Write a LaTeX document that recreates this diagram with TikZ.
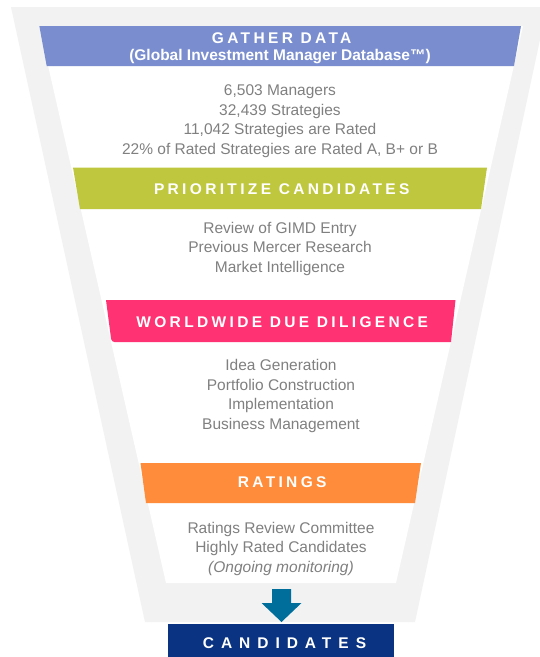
\documentclass[tikz,border=0pt]{standalone}
\usepackage{fontspec}
\setmainfont{Liberation Sans}
\newfontfamily\headfont{Liberation Sans}[LetterSpace=21.6]
\newfontfamily\candfont{Liberation Sans}[LetterSpace=45]
\definecolor{funnelgray}{HTML}{F2F2F2}
\definecolor{bandblue}{HTML}{7A8ECF}
\definecolor{bandgreen}{HTML}{BFC73E}
\definecolor{bandpink}{HTML}{FF3373}
\definecolor{bandorange}{HTML}{FF8C3A}
\definecolor{arrowteal}{HTML}{006E9B}
\definecolor{navybox}{HTML}{0A3482}
\definecolor{bodygray}{HTML}{808080}
\begin{document}
\begin{tikzpicture}[x=1pt,y=-1pt,
  body/.style={text=bodygray, font=\fontsize{15.5}{19.5}\selectfont, align=center, inner sep=0pt},
  head/.style={text=white, font=\headfont\bfseries\fontsize{15.5}{18}\selectfont, inner sep=0pt},
  subhead/.style={text=white, font=\bfseries\fontsize{15.5}{18}\selectfont, inner sep=0pt},
  candtext/.style={text=white, font=\candfont\bfseries\fontsize{15.5}{18}\selectfont, inner sep=0pt}]
\useasboundingbox (0,0) rectangle (540,657);
\fill[white] (0,0) rectangle (540,657);
% outer gray funnel
\fill[funnelgray] (11,7) -- (547,7) -- (415,622) -- (145,622) -- cycle;
% inner white funnel
\fill[white] (39,26) -- (523,26) -- (396,583) -- (166,583) -- cycle;
% bands
\fill[bandblue] (39.3,26) -- (521,26) -- (514,66) -- (46.7,66) -- cycle;
\fill[bandgreen] (73,167.5) -- (487,167.5) -- (481,209) -- (80,209) -- cycle;
\fill[bandpink] (106,300) -- (455.5,300) -- (451,342) [rounded corners=3pt] -- (111.5,342) [sharp corners] -- cycle;
\fill[bandorange] (140.5,463) -- (421,463) -- (415,503) -- (146,503) -- cycle;
% texts
\node[head] (gather) at (281.7,38) {GATHER DATA};
\node[subhead] (gimd) at (280,57) {(Global Investment Manager Database™)};
\node[body] (gstats) at (280,121) {6,503 Managers\\32,439 Strategies\\11,042 Strategies are Rated\\22\% of Rated Strategies are Rated A, B+ or B};
\node[head] (prior) at (281.7,189) {PRIORITIZE CANDIDATES};
\node[body] (pstats) at (280,248.5) {Review of GIMD Entry\\Previous Mercer Research\\Market Intelligence};
\node[head] (wdd) at (282.2,322) {WORLDWIDE DUE DILIGENCE};
\node[body] (wstats) at (281,396) {Idea Generation\\Portfolio Construction\\Implementation\\Business Management};
\node[head] (ratings) at (282.2,482) {RATINGS};
\node[body] (rstats) at (281,548.5) {Ratings Review Committee\\Highly Rated Candidates\\\textit{(Ongoing monitoring)}};
% arrow and candidates box
\node[fill=navybox, minimum width=226pt, minimum height=40pt, inner sep=0pt, anchor=north] (candbox) at (281,624) {};
\node[candtext] (cand) at (284.5,643) {CANDIDATES};
\coordinate (arrtop) at (281.5,589);
\coordinate (arrtip) at (281.5,622);
\fill[arrowteal] ([xshift=-9.5pt]arrtop) -- ([xshift=9.5pt]arrtop) -- ([xshift=9.5pt,yshift=-14pt]arrtop)
  -- ([xshift=20pt,yshift=-14pt]arrtop) -- (arrtip) -- ([xshift=-20pt,yshift=-14pt]arrtop)
  -- ([xshift=-9.5pt,yshift=-14pt]arrtop) -- cycle;
\end{tikzpicture}
\end{document}
